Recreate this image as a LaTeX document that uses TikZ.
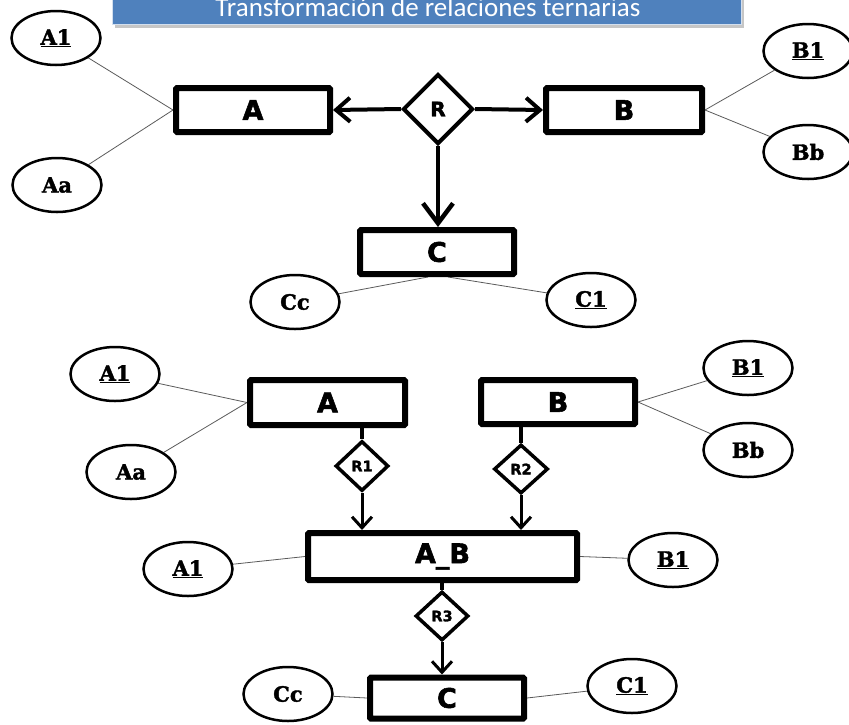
\documentclass[tikz,border=0pt]{standalone}
\usepackage{fontspec}
\newfontfamily\entfont{DejaVu Sans Bold}[FakeBold=2]
\newfontfamily\attfont{DejaVu Serif Bold}[FakeBold=1.8]
\newfontfamily\titfont{Carlito}
\usetikzlibrary{shapes.geometric,arrows.meta,calc,backgrounds}
\definecolor{bannerblue}{RGB}{79,129,189}
\definecolor{linkgray}{RGB}{90,90,90}
\tikzset{
  ent/.style={draw, rectangle, line width=6pt, rounded corners=1pt, fill=white, inner sep=0pt,
    font=\entfont\fontsize{27}{27}\selectfont},
  attr/.style={draw, ellipse, line width=2.5pt, fill=white, inner sep=0pt,
    minimum width=89pt, minimum height=54pt,
    font=\attfont\fontsize{21}{21}\selectfont},
  relbig/.style={draw, diamond, aspect=1, line width=4pt, fill=white, inner sep=0pt,
    font=\entfont\fontsize{20}{20}\selectfont},
  relsmall/.style={draw, diamond, aspect=1, line width=3.5pt, fill=white, inner sep=0pt,
    font=\entfont\fontsize{14.5}{14.5}\selectfont},
  link/.style={draw=linkgray, line width=0.8pt},
  arrbig/.style={line width=4pt, -{Straight Barb[length=14pt,width=24pt]}},
  arrdown/.style={line width=4.5pt, -{Straight Barb[length=20pt,width=30pt]}},
  arrsmall/.style={line width=3pt, -{Straight Barb[length=11pt,width=20pt]}},
  plain/.style={line width=3.5pt}
}
\begin{document}
\begin{tikzpicture}[x=1pt,y=-1pt]
\useasboundingbox (0,0) rectangle (849,724);
% title banner
\fill[gray!45] (115,-10) rectangle (744,28);
\fill[bannerblue] (112,-10) rectangle (741,24);
\draw[white!75!bannerblue, line width=0.8pt] (112,-10) rectangle (741,24);
\node[anchor=base, text=white, font=\titfont\fontsize{27}{27}\selectfont] (title) at (428,16.5) {Transformación de relaciones ternarias};

% ---------- top diagram ----------
\node[ent, minimum width=154pt, minimum height=44pt] (At) at (253,110) {A};
\node[ent, minimum width=156pt, minimum height=44pt] (Bt) at (624,110) {B};
\node[ent, minimum width=154pt, minimum height=44pt] (Ct) at (437,252) {C};
\node[relbig, minimum width=70pt, minimum height=70pt] (Rt) at (438,109) {R};
\node[attr] (A1t) at (56,38) {\underline{A1}};
\node[attr] (Aat) at (57,185) {Aa};
\node[attr] (B1t) at (808,51) {\underline{B1}};
\node[attr] (Bbt) at (808,152) {Bb};
\node[attr] (Cct) at (295,302) {Cc};
\node[attr] (C1t) at (591,300) {\underline{C1}};

\draw[arrbig] (Rt.west) -- (At.east);
\draw[arrbig] (Rt.east) -- (Bt.west);
\draw[arrdown] (Rt.south) -- (Rt.south |- Ct.north);

% ---------- bottom diagram ----------
\node[ent, minimum width=155pt, minimum height=45pt] (Ab) at (327.5,402.5) {A};
\node[ent, minimum width=154pt, minimum height=44pt] (Bb) at (558,402) {B};
\node[ent, minimum width=269pt, minimum height=47pt] (AB) at (442.5,556.5) {A\_B};
\node[ent, minimum width=154pt, minimum height=41pt] (Cb) at (447,698) {C};
\node[relsmall, minimum width=53pt, minimum height=50pt] (R1) at (362,466) {R1};
\node[relsmall, minimum width=54pt, minimum height=49pt] (R2) at (521,469) {R2};
\node[relsmall, minimum width=53pt, minimum height=49pt] (R3) at (442,616) {R3};
\node[attr] (A1b) at (115,374) {\underline{A1}};
\node[attr] (Aab) at (131,472) {Aa};
\node[attr] (B1b) at (748,368) {\underline{B1}};
\node[attr] (Bbb) at (748,450) {Bb};
\node[attr] (A1c) at (188,569) {\underline{A1}};
\node[attr] (B1c) at (673,560) {\underline{B1}};
\node[attr] (Ccb) at (288,694) {Cc};
\node[attr] (C1b) at (632,686) {\underline{C1}};

\draw[plain] (Ab.south -| R1.north) -- (R1.north);
\draw[plain] (Bb.south -| R2.north) -- (R2.north);
\draw[arrsmall] (R1.south) -- (R1.south |- AB.north);
\draw[arrsmall] (R2.south) -- (R2.south |- AB.north);
\draw[plain] (AB.south -| R3.north) -- (R3.north);
\draw[arrsmall] (R3.south) -- (R3.south |- Cb.north);

\begin{scope}[on background layer]
\draw[link] (A1t) -- (At.west);
\draw[link] (Aat) -- (At.west);
\draw[link] (B1t) -- (Bt.east);
\draw[link] (Bbt) -- (Bt.east);
\draw[link] (Cct) -- ([xshift=-9pt]Ct.south);
\draw[link] (C1t) -- ([xshift=11pt]Ct.south);
\draw[link] (A1b) -- (Ab.west);
\draw[link] (Aab) -- (Ab.west);
\draw[link] (B1b) -- (Bb.east);
\draw[link] (Bbb) -- (Bb.east);
\draw[link] (A1c) -- (AB.west);
\draw[link] (B1c) -- (AB.east);
\draw[link] (Ccb) -- (Cb.west);
\draw[link] (C1b) -- (Cb.east);
\end{scope}
\end{tikzpicture}
\end{document}
